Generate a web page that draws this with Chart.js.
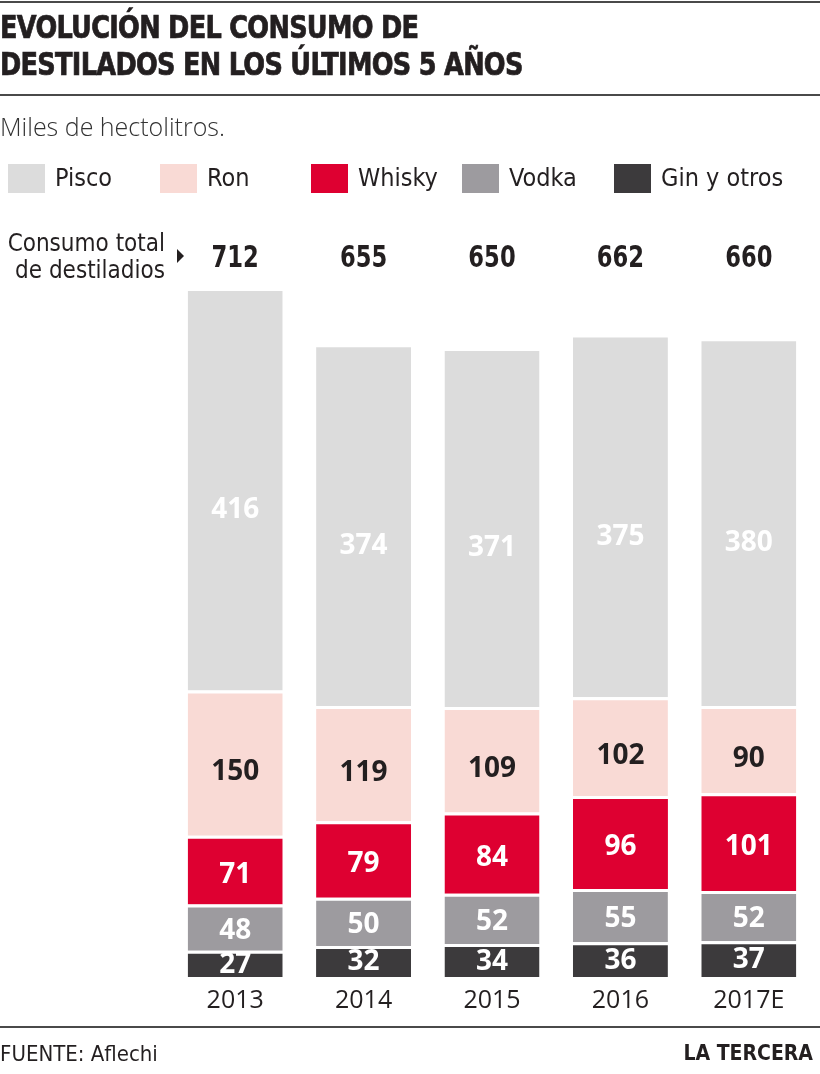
<!DOCTYPE html>
<html>
<head>
<meta charset="utf-8">
<script src="https://cdn.jsdelivr.net/npm/chart.js@4/dist/chart.umd.min.js"></script>
<style>
body{margin:0;background:#fff;}
#wrap{position:relative;width:820px;height:1074px;overflow:hidden;color:#231f20;}
#wrap canvas{position:absolute;left:0;top:0;}
.rule{position:absolute;left:0;width:820px;height:0;border-top:2px solid #4a4a4a;}
#title{position:absolute;left:0;top:9px;font-family:"Liberation Sans Narrow","DejaVu Sans Condensed",Roboto,sans-serif;font-weight:900;font-size:32px;line-height:37px;letter-spacing:-0.8px;white-space:nowrap;transform:scaleX(0.89);transform-origin:left top;-webkit-text-stroke:0.7px #231f20;}
#sub{position:absolute;left:0;top:109px;font-family:"Open Sans",sans-serif;font-size:25px;font-weight:300;color:#333;}
#legend{position:absolute;left:0;top:160px;width:820px;height:36px;}
.item{position:absolute;top:0;height:36px;}
.sw{position:absolute;left:0;top:4px;width:37px;height:29px;}
.lab{position:absolute;left:47px;top:0;font-family:"Liberation Sans Narrow","DejaVu Sans Condensed",Roboto,sans-serif;font-size:25px;line-height:36px;white-space:nowrap;}
#tot{position:absolute;right:655px;top:230px;text-align:right;font-family:"Liberation Sans Narrow","DejaVu Sans Condensed",Roboto,sans-serif;font-size:24px;line-height:27px;white-space:nowrap;}
#arrow{position:absolute;left:177px;top:249px;width:0;height:0;border-top:7px solid transparent;border-bottom:7px solid transparent;border-left:7px solid #231f20;}
#src{position:absolute;left:0;top:1041px;font-family:"Liberation Sans Narrow","DejaVu Sans Condensed",Roboto,sans-serif;font-size:22px;}
#brand{position:absolute;right:7px;top:1041px;font-family:"Liberation Sans Narrow","DejaVu Sans Condensed",Roboto,sans-serif;font-size:21px;font-weight:bold;}
</style>
</head>
<body>
<div id="wrap">
<canvas id="chart" width="820" height="1074"></canvas>
<div class="rule" style="top:1px"></div>
<div id="title">EVOLUCIÓN DEL CONSUMO DE<br>DESTILADOS EN LOS ÚLTIMOS 5 AÑOS</div>
<div class="rule" style="top:94px"></div>
<div id="sub">Miles de hectolitros.</div>
<div id="legend"></div>
<div id="tot">Consumo total<br>de destiladios</div>
<div id="arrow"></div>
<div class="rule" style="top:1026px"></div>
<div id="src">FUENTE: Aflechi</div>
<div id="brand">LA TERCERA</div>
</div>
<script>
// años
const years=["2013","2014","2015","2016","2017E"]
const totals=[712,655,650,662,660]

// miles de hectolitros, de abajo hacia arriba
const gin=[27,32,34,36,37]
const vodka=[48,50,52,55,52]
const whisky=[71,79,84,96,101]
const ron=[150,119,109,102,90]
const pisco=[416,374,371,375,380]

const names=["Gin y otros","Vodka","Whisky","Ron","Pisco"]
const colors=["#3c3a3c","#9d9b9f","#de0031","#f9dad5","#dcdcdc"]
const labelColors=["#fff","#fff","#fff","#231f20","#fff"]
// las etiquetas van algo bajo el centro del tramo
const labelShift=[0,2,4,8,20]

// leyenda en el orden de la imagen
const legendX=[8,160,311,462,614]
let leg=document.getElementById("legend")
let order=[4,3,2,1,0]
order.forEach((k,i)=>{
leg.innerHTML+=`<div class="item" style="left:${legendX[i]}px"><div class="sw" style="background:${colors[k]}"></div><div class="lab">${names[k]}</div></div>`
})

const valuesPlugin={
id:"values",
afterDatasetsDraw(c){
let ctx=c.ctx
ctx.save()
ctx.textAlign="center"
ctx.textBaseline="middle"
ctx.font="bold 28px 'Open Sans', sans-serif"
c.data.datasets.forEach((ds,i)=>{
let meta=c.getDatasetMeta(i)
meta.data.forEach((bar,j)=>{
let y=(bar.y+bar.base)/2+1+labelShift[i]
ctx.fillStyle=labelColors[i]
ctx.fillText(ds.data[j],bar.x,y)
})
})
ctx.restore()
},
afterDraw(c){
let ctx=c.ctx
let x=c.scales.x
ctx.save()
ctx.textAlign="center"
ctx.textBaseline="middle"
ctx.fillStyle="#231f20"
ctx.font="bold 30px 'Liberation Sans Narrow','DejaVu Sans Condensed',Roboto,sans-serif"
totals.forEach((t,i)=>{
ctx.save()
ctx.translate(x.getPixelForValue(i),259)
ctx.scale(0.84,1)
ctx.fillText(t,0,0)
ctx.restore()
})
ctx.font="25px 'Open Sans', sans-serif"
years.forEach((y,i)=>{
ctx.fillText(y,x.getPixelForValue(i),1001)
})
ctx.restore()
}
}

const series=[gin,vodka,whisky,ron,pisco]

new Chart(document.getElementById("chart"),{
type:"bar",
data:{
labels:years,
datasets:series.map((d,i)=>({
label:names[i],
data:d,
backgroundColor:colors[i],
borderColor:"#fff",
borderWidth:{top:3,bottom:0,left:0,right:0},
borderSkipped:false,
categoryPercentage:1,
barPercentage:0.74
}))
},
options:{
responsive:false,
animation:false,
events:[],
layout:{padding:{left:171,right:7,top:288,bottom:97}},
plugins:{legend:{display:false},tooltip:{enabled:false}},
scales:{
x:{stacked:true,display:false},
y:{stacked:true,display:false,min:0,max:712}
}
},
plugins:[valuesPlugin]
})
</script>
</body>
</html>
